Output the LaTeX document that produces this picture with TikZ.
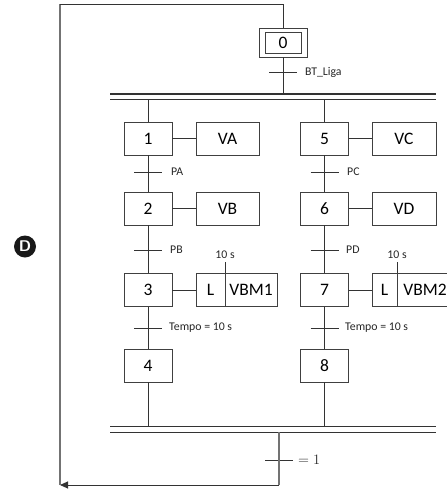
\documentclass[tikz,border=0pt]{standalone}
\usepackage{fontspec}
\setmainfont{Carlito}
\usetikzlibrary{arrows.meta}
\begin{document}
\begin{tikzpicture}[x=1pt,y=-1pt,
  ln/.style={draw=black!80, line width=0.9pt},
  stepbox/.style={draw=black!75, line width=0.9pt, minimum width=48pt, minimum height=33pt, inner sep=0pt, font=\fontsize{17.5}{19}\selectfont},
  actbox/.style={draw=black!75, line width=0.9pt, minimum height=33pt, inner sep=0pt, font=\fontsize{17.5}{19}\selectfont},
  tick/.style={draw=black!80, line width=0.9pt},
  lbl/.style={font=\fontsize{11.8}{13}\selectfont, anchor=west, text=black!85, inner sep=0pt},
  loopln/.style={draw=black!55, line width=1.1pt},
]
\useasboundingbox (0,0) rectangle (447,491);

% step 0
\node[stepbox, minimum width=48pt, minimum height=29pt] (s0o) at (283,42.5) {};
\node[stepbox, minimum width=36pt, minimum height=21pt] (s0) at (283,42.5) {0};

% bars
\coordinate (b1L) at (110,94);  \coordinate (b1R) at (436,94);
\coordinate (b2L) at (110,99);  \coordinate (b2R) at (436,99);
\coordinate (b3L) at (110,426); \coordinate (b3R) at (436,426);
\coordinate (b4L) at (110,432); \coordinate (b4R) at (436,432);
\draw[draw=black!80, line width=1.7pt] (b1L) -- (b1R);
\draw[draw=black!80, line width=1pt] (b2L) -- (b2R);
\draw[draw=black!80, line width=1pt] (b3L) -- (b3R);
\draw[draw=black!80, line width=1pt] (b4L) -- (b4R);

% steps left
\node[stepbox] (s1) at (148,138.5) {1};
\node[stepbox] (s2) at (148,208.5) {2};
\node[stepbox] (s3) at (148,290) {3};
\node[stepbox] (s4) at (148,365.5) {4};
% steps right
\node[stepbox] (s5) at (324.5,138.5) {5};
\node[stepbox] (s6) at (324.5,208.5) {6};
\node[stepbox] (s7) at (324.5,290) {7};
\node[stepbox] (s8) at (324.5,365.5) {8};

% actions
\node[actbox, minimum width=63pt] (aVA) at (227.5,138.5) {VA};
\node[actbox, minimum width=63pt] (aVB) at (227.5,208.5) {VB};
\node[actbox, minimum width=64pt] (aVC) at (404,138.5) {VC};
\node[actbox, minimum width=64pt] (aVD) at (404,208.5) {VD};
\node[actbox, minimum width=29pt] (aL1) at (210.5,290) {L};
\node[actbox, minimum width=52pt] (aM1) at (251,290) {VBM1};
\node[actbox, minimum width=25pt] (aL2) at (384.5,290) {L};
\node[actbox, minimum width=56pt] (aM2) at (425,290) {VBM2};

\draw[ln] (s1) -- (aVA);
\draw[ln] (s2) -- (aVB);
\draw[ln] (s3) -- (aL1);
\draw[ln] (s5) -- (aVC);
\draw[ln] (s6) -- (aVD);
\draw[ln] (s7) -- (aL2);

% 10 s
\node[lbl, anchor=center] (t1) at (225,255) {10 s};
\node[lbl, anchor=center] (t2) at (397,255) {10 s};
\draw[ln] (aL1.north east) -- ++(0,-11);
\draw[ln] (aL2.north east) -- ++(0,-11);

% vertical links
\draw[ln] (s0o.south) -- (s0o.south |- b1L);
\draw[ln] (s1.north) -- (s1.north |- b2L);
\draw[ln] (s5.north) -- (s5.north |- b2L);
\draw[ln] (s1) -- (s2);
\draw[ln] (s2) -- (s3);
\draw[ln] (s3) -- (s4);
\draw[ln] (s5) -- (s6);
\draw[ln] (s6) -- (s7);
\draw[ln] (s7) -- (s8);
\draw[ln] (s4.south) -- (s4.south |- b3L);
\draw[ln] (s8.south) -- (s8.south |- b3L);

% transitions
\coordinate (tBT) at (283,72);
\coordinate (tPA) at (148,172);  \coordinate (tPB) at (148,250);  \coordinate (tT1) at (148,328);
\coordinate (tPC) at (324.5,172);\coordinate (tPD) at (324.5,250);\coordinate (tT2) at (324.5,328);
\coordinate (tEnd) at (279,460);
\foreach \t in {tBT,tPA,tPB,tT1,tPC,tPD,tT2,tEnd}
  \draw[tick] ([xshift=-14pt]\t) -- ([xshift=14pt]\t);
\node[lbl] (lBT) at (305,72) {BT\_Liga};
\node[lbl] (lPA) at (171,172) {PA};
\node[lbl] (lPB) at (170,250) {PB};
\node[lbl] (lT1) at (169,328) {Tempo = 10 s};
\node[lbl] (lPC) at (347,172) {PC};
\node[lbl] (lPD) at (346,250) {PD};
\node[lbl] (lT2) at (345,328) {Tempo = 10 s};
\node[anchor=west, inner sep=0pt, font=\fontsize{14.5}{14.5}\selectfont, text=black!85] (lEnd) at (298,460) {$=1$};

% loop
\coordinate (exit) at (279,432);
\coordinate (cBR) at (279,485);
\coordinate (cBL) at (60,485);
\coordinate (cTL) at (60,4);
\draw[loopln] (exit) -- (cBR);
\draw[ln, -{Triangle[length=8pt,width=7pt]}] (cBR) -- (cBL);
\draw[loopln] (cBL) -- (cTL);
\draw[ln] (cTL) -| (s0o.north);

% D marker
\node[circle, fill=black!90, minimum size=22pt, inner sep=0pt, text=white, font=\sffamily\bfseries\fontsize{15.5}{15.5}\selectfont] (D) at (25,246.5) {D};
\end{tikzpicture}
\end{document}
